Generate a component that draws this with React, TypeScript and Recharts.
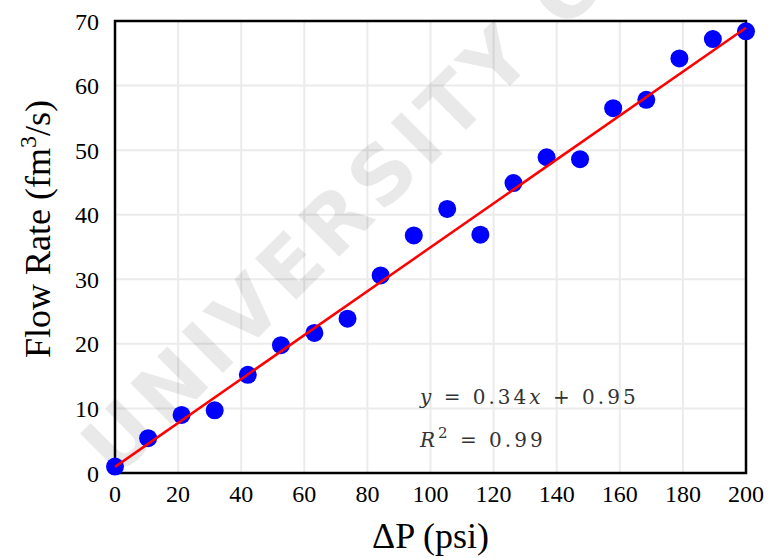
import React from "react";
import {
  ScatterChart,
  Scatter,
  XAxis,
  YAxis,
  CartesianGrid,
  ReferenceArea,
  Label,
  Customized,
} from "recharts";

// measured points
const pressure = [
  0, 10.5, 21.1, 31.6, 42.1, 52.6, 63.2, 73.7, 84.2, 94.7, 105.3, 115.8, 126.3,
  136.8, 147.4, 157.9, 168.4, 178.9, 189.5, 200,
];
const flowRate = [
  1.0, 5.4, 9.0, 9.7, 15.2, 19.8, 21.7, 23.9, 30.6, 36.8, 40.9, 36.9, 44.9,
  48.9, 48.6, 56.5, 57.8, 64.2, 67.2, 68.4,
];

// linear fit shown in the plot
const slope = 0.34;
const intercept = 0.95;
const fitRange = [0, 200];

const xTicks = [0, 20, 40, 60, 80, 100, 120, 140, 160, 180, 200];
const yTicks = [0, 10, 20, 30, 40, 50, 60, 70];
const xMinorTicks = [10, 30, 50, 70, 90, 110, 130, 150, 170, 190];
const yMinorTicks = [5, 15, 25, 35, 45, 55, 65];

const data = pressure.map((p, i) => ({ p, q: flowRate[i] }));
const fitData = fitRange.map((p) => ({ p, q: slope * p + intercept }));

const serif = "'Liberation Serif', 'Times New Roman', serif";
const tickFont = { fontFamily: serif, fontSize: 24, fill: "#000" };
const minorLine = { stroke: "#c8c8c8", strokeWidth: 1.5 };

const YTitle = ({ viewBox }: any) => {
  const cy = viewBox.y + viewBox.height / 2 - 18;
  return (
    <text
      transform={`translate(50, ${cy}) rotate(-90)`}
      textAnchor="middle"
      fontFamily={serif}
      fontSize={36}
      fill="#000"
    >
      Flow Rate (fm
      <tspan fontSize={24} dy={-14}>
        3
      </tspan>
      <tspan dy={14}>/s)</tspan>
    </text>
  );
};

const Overlay = () => (
  <g>
    <text
      transform="translate(116, 480) rotate(-45)"
      fontFamily="'DejaVu Sans', sans-serif"
      fontWeight="bold"
      fontSize={80}
      letterSpacing={6}
      fill="#000"
      fillOpacity={0.085}
    >
      UNIVERSITY OF
    </text>
    <g fontFamily="'DejaVu Serif', serif" fontSize={20} fill="#333" letterSpacing={3}>
      <text x={420} y={404}>
        <tspan fontStyle="italic">y</tspan> = 0.34<tspan fontStyle="italic">x</tspan> + 0.95
      </text>
      <text x={420} y={447}>
        <tspan fontStyle="italic">R</tspan>
        <tspan fontSize={15} dy={-9}>
          2
        </tspan>
        <tspan dy={9}> = 0.99</tspan>
      </text>
    </g>
  </g>
);

export default function App() {
  return (
    <div style={{ position: "absolute", left: 0, top: 0 }}>
      <ScatterChart
        width={769}
        height={558}
        margin={{ top: 21, right: 23, bottom: 0, left: 0 }}
      >
        {/* minor ticks, inside the frame */}
        <XAxis
          xAxisId="minorB"
          type="number"
          dataKey="p"
          domain={[0, 200]}
          ticks={xMinorTicks}
          interval={0}
          height={0}
          mirror
          tick={false}
          tickSize={6}
          tickLine={minorLine}
          axisLine={false}
        />
        <XAxis
          xAxisId="main"
          type="number"
          dataKey="p"
          domain={[0, 200]}
          ticks={xTicks}
          interval={0}
          height={85}
          tickSize={0}
          tickMargin={12}
          tick={tickFont}
          axisLine={false}
        >
          <Label
            value="ΔP (psi)"
            position="insideBottom"
            offset={10}
            style={{ fontFamily: serif, fontSize: 36, fill: "#000" }}
          />
        </XAxis>
        <XAxis
          xAxisId="minorT"
          orientation="top"
          type="number"
          dataKey="p"
          domain={[0, 200]}
          ticks={xMinorTicks}
          interval={0}
          height={0}
          mirror
          tick={false}
          tickSize={6}
          tickLine={minorLine}
          axisLine={false}
        />
        <YAxis
          yAxisId="minorL"
          type="number"
          dataKey="q"
          domain={[0, 70]}
          ticks={yMinorTicks}
          interval={0}
          width={0}
          mirror
          tick={false}
          tickSize={6}
          tickLine={minorLine}
          axisLine={false}
        />
        <YAxis
          yAxisId="main"
          type="number"
          dataKey="q"
          domain={[0, 70]}
          ticks={yTicks}
          interval={0}
          width={115}
          tickSize={0}
          tickMargin={16}
          tick={tickFont}
          axisLine={false}
        >
          <Label content={YTitle} />
        </YAxis>
        <YAxis
          yAxisId="minorR"
          orientation="right"
          type="number"
          dataKey="q"
          domain={[0, 70]}
          ticks={yMinorTicks}
          interval={0}
          width={0}
          mirror
          tick={false}
          tickSize={6}
          tickLine={minorLine}
          axisLine={false}
        />
        <CartesianGrid
          xAxisId="main"
          yAxisId="main"
          stroke="#ebebeb"
          strokeWidth={2}
        />
        <Customized component={Overlay} />
        <Scatter
          xAxisId="main"
          yAxisId="main"
          data={data}
          fill="#0000ff"
          shape={(props: any) => (
            <circle cx={props.cx} cy={props.cy} r={9} fill="#0000ff" />
          )}
          isAnimationActive={false}
        />
        <Scatter
          xAxisId="main"
          yAxisId="main"
          data={fitData}
          line={{ stroke: "#ff0000", strokeWidth: 2.5 }}
          shape={() => <g />}
          isAnimationActive={false}
        />
        <ReferenceArea
          xAxisId="main"
          yAxisId="main"
          x1={0}
          x2={200}
          y1={0}
          y2={70}
          fill="none"
          stroke="#000"
          strokeWidth={2.5}
          ifOverflow="visible"
        />
      </ScatterChart>
    </div>
  );
}
